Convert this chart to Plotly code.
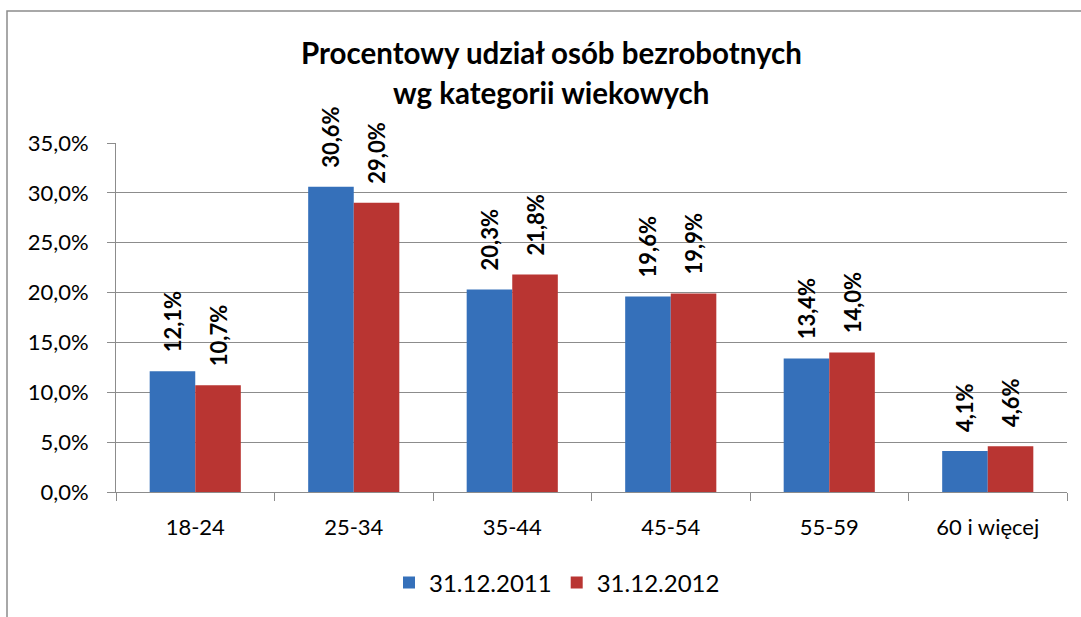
import plotly.graph_objects as go

categories = ["18-24", "25-34", "35-44", "45-54", "55-59", "60 i więcej"]
series_2011 = [0.121, 0.306, 0.203, 0.196, 0.134, 0.041]
series_2012 = [0.107, 0.290, 0.218, 0.199, 0.140, 0.046]
series_names = ["31.12.2011", "31.12.2012"]
title_lines = ["Procentowy udział osób bezrobotnych", "wg kategorii wiekowych"]

FONT = "Lato"
W, H = 1081, 617
L, R, T, B = 116, 14, 143, 125
pw, ph = W - L - R, H - T - B

def px(x):
    return (x - L) / pw

def py(y):
    return (H - B - y) / ph

pad = "\u00a0\u00a0\u00a0"
fig = go.Figure()
for name, vals, col in [(series_names[0], series_2011, "#3570BA"),
                        (series_names[1], series_2012, "#B93532")]:
    fig.add_trace(go.Bar(
        x=categories, y=vals, name=name,
        marker=dict(color=col, line=dict(width=0)),
        texttemplate=pad + "%{y:.1%}",
        textposition="outside", textangle=-90,
        constraintext="none", cliponaxis=False,
        textfont=dict(family=FONT, size=22, color="black", weight="bold"),
    ))

fig.update_layout(
    width=W, height=H,
    margin=dict(l=L, r=R, t=T, b=B),
    paper_bgcolor="white", plot_bgcolor="white",
    separators=", ",
    barmode="group", bargap=0.425, bargroupgap=0,
    font=dict(family=FONT, size=22, color="black"),
    showlegend=True,
    legend=dict(orientation="h", x=px(557), y=py(583), xanchor="center", yanchor="middle",
                font=dict(family=FONT, size=24, color="black"), itemwidth=30,
                traceorder="normal"),
    xaxis=dict(showgrid=False, showline=True, linecolor="#8c8c8c", linewidth=1,
               ticks="outside", tickson="boundaries", ticklen=8, tickcolor="#8c8c8c",
               tickfont=dict(family=FONT, size=22), ticklabelstandoff=16),
    yaxis=dict(range=[0, 0.35], dtick=0.05, tickformat=".1%", showgrid=True,
               gridcolor="#8c8c8c", gridwidth=1, showline=True, linecolor="#8c8c8c",
               linewidth=1, ticks="outside", ticklen=8, tickcolor="#8c8c8c",
               tickfont=dict(family=FONT, size=22), ticklabelstandoff=14, zeroline=False),
    annotations=[
        dict(text="<b>" + title_lines[0] + "</b>", x=px(551), y=py(52), xref="paper", yref="paper",
             showarrow=False, xanchor="center", yanchor="middle",
             font=dict(family=FONT, size=29.5, color="black")),
        dict(text="<b>" + title_lines[1] + "</b>", x=px(551), y=py(92), xref="paper", yref="paper",
             showarrow=False, xanchor="center", yanchor="middle",
             font=dict(family=FONT, size=29.5, color="black")),
    ],
    shapes=[
        dict(type="rect", xref="paper", yref="paper", x0=px(7), x1=px(1095), y0=py(640), y1=py(11),
             line=dict(color="#8c8c8c", width=1.5), fillcolor="rgba(0,0,0,0)", layer="below"),
    ],
)

fig.write_html("out.html", config={"displayModeBar": False},
               post_script="document.body.style.margin='0';document.body.style.overflow='hidden';")
